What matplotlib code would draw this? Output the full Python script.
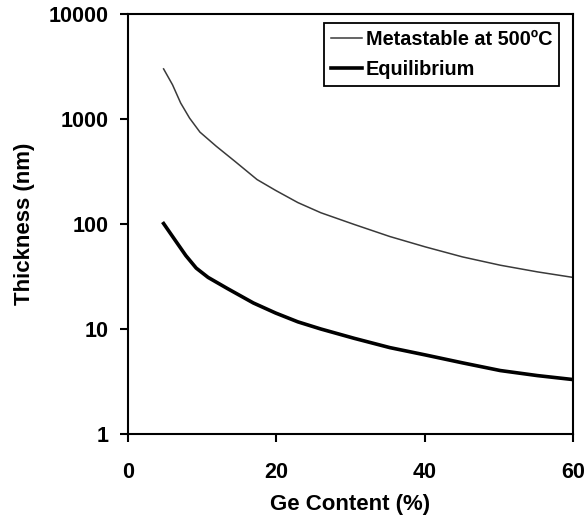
import matplotlib
matplotlib.use("Agg")
import matplotlib.pyplot as plt
from matplotlib.ticker import FixedLocator, NullLocator

plt.rcParams['font.family'] = ['Liberation Sans', 'DejaVu Sans']
plt.rcParams['font.weight'] = 'bold'

ge_meta = [4.8, 6.0, 7.1, 8.3, 9.7, 11.9, 14.4, 17.4, 19.9, 22.9, 26.0, 30.5, 35.3, 40.1, 45.1, 50.2, 55.2, 60.0]
thick_meta = [3000, 2120, 1420, 1020, 750, 550, 396, 265, 209, 160, 128, 99, 76, 60.5, 48.6, 40.5, 35, 31]

ge_eq = [4.8, 6.3, 7.8, 9.2, 10.8, 13.4, 16.9, 19.9, 22.9, 26.0, 30.5, 35.3, 40.1, 45.1, 50.2, 55.2, 60.0]
thick_eq = [101, 71, 50, 38, 31, 24.3, 17.7, 14.2, 11.7, 10.0, 8.15, 6.65, 5.66, 4.76, 4.02, 3.6, 3.3]

x_ticks = [0, 20, 40, 60]
y_ticks = [1, 10, 100, 1000, 10000]
y_ticklabels = ['1', '10', '100', '1000', '10000']

fig = plt.figure(figsize=(5.85, 5.21), dpi=100)
ax = fig.add_axes([128/585, 1-434/521, (573-128)/585, (434-14)/521])

ax.plot(ge_meta, thick_meta, color='#3a3a3a', lw=1.1, label='Metastable at 500ºC')
ax.plot(ge_eq, thick_eq, color='black', lw=2.6, label='Equilibrium')

ax.set_yscale('log')
ax.set_xlim(0, 60)
ax.set_ylim(1, 10000)
ax.xaxis.set_major_locator(FixedLocator(x_ticks))
ax.yaxis.set_major_locator(FixedLocator(y_ticks))
ax.yaxis.set_minor_locator(NullLocator())
ax.set_yticklabels(y_ticklabels)
ax.set_xticklabels([str(v) for v in x_ticks])

for s in ax.spines.values():
    s.set_linewidth(1.5)
ax.tick_params(axis='both', direction='out', length=6, width=1.5, labelsize=15.5)
ax.tick_params(axis='x', pad=14)
ax.tick_params(axis='y', pad=8)

ax.set_xlabel('Ge Content (%)', fontsize=16, fontweight='bold', labelpad=8)
ax.set_ylabel('Thickness (nm)', fontsize=16, fontweight='bold', labelpad=10)

leg = ax.legend(loc='upper right', bbox_to_anchor=(0.969, 0.979), fontsize=14.3,
                frameon=True, fancybox=False, framealpha=1, edgecolor='black',
                handlelength=1.55, handletextpad=0.2, borderpad=0.35, borderaxespad=0,
                labelspacing=0.55)
leg.get_frame().set_linewidth(1.3)

fig.savefig('out.png', dpi=100)
